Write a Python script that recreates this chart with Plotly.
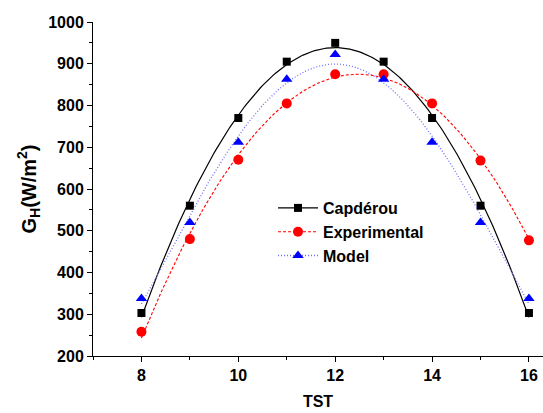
import numpy as np
import plotly.graph_objects as go

tst = [8, 9, 10, 11, 12, 13, 14, 15, 16]
capderou = [303, 560, 770, 905, 950, 905, 770, 560, 303]
experimental = [258, 480, 670, 805, 875, 875, 805, 668, 477]
model = [338, 520, 712, 863, 922, 863, 712, 520, 338]

x_ticks = [8, 10, 12, 14, 16]
y_ticks = [200, 300, 400, 500, 600, 700, 800, 900, 1000]

# name, values, marker colour, line colour, dash, width, symbol, size, fit degrees
series = [
    ("Capdérou", capderou, "black", "black", "solid", 1.2, "square", 8, (2,)),
    ("Experimental", experimental, "#ff0000", "#ff0000", "3px,2px", 1.1, "circle", 10, (2,)),
    ("Model", model, "#0000ff", "#6f6fff", "1px,2px", 1.3, "triangle-up", 10, (2, 4)),
]

FAM = "Liberation Sans, Arial"
fig = go.Figure()
xd = np.linspace(min(tst), max(tst), 200)
for name, ys, mcol, lcol, dash, lw, sym, ms, degs in series:
    yfit = np.mean([np.polyval(np.polyfit(tst, ys, d), xd) for d in degs], axis=0)
    fig.add_trace(go.Scatter(x=xd, y=yfit, mode="lines",
                             line=dict(color=lcol, dash=dash, width=lw),
                             showlegend=False, hoverinfo="skip"))
    fig.add_trace(go.Scatter(x=tst, y=ys, mode="markers",
                             marker=dict(color=mcol, symbol=sym, size=ms),
                             showlegend=False))
    fig.add_trace(go.Scatter(x=[None], y=[None], mode="lines+markers", name=f"<b>{name}</b>",
                             line=dict(color=lcol, dash=dash, width=lw),
                             marker=dict(color=mcol, symbol=sym, size=ms)))

fig.update_layout(
    width=543, height=413,
    margin=dict(l=93, r=0, t=22, b=57),
    paper_bgcolor="white", plot_bgcolor="white",
    font=dict(family=FAM, color="black"),
    legend=dict(x=0.4, y=0.494, xanchor="left", yanchor="top",
                font=dict(family=FAM, size=16, color="black"),
                bgcolor="rgba(0,0,0,0)", itemwidth=40, tracegroupgap=0),
    xaxis=dict(range=[7, 16.29], tickvals=x_ticks, ticktext=[f"<b>{v}</b>" for v in x_ticks],
               ticks="outside", ticklen=5, tickwidth=1, tickcolor="black",
               minor=dict(tickvals=[7, 9, 11, 13, 15], ticks="outside", ticklen=3, tickcolor="black"),
               showline=True, linecolor="black", linewidth=1, showgrid=False, zeroline=False,
               tickfont=dict(family=FAM, size=16, color="black"),
               title=dict(text="<b>TST</b>", font=dict(family=FAM, size=16, color="black"),
                          standoff=12)),
    yaxis=dict(range=[200, 1000], tickvals=y_ticks, ticktext=[f"<b>{v}</b>" for v in y_ticks],
               ticks="outside", ticklen=5, tickwidth=1, tickcolor="black",
               minor=dict(tickvals=list(range(250, 1000, 100)), ticks="outside", ticklen=3, tickcolor="black"),
               showline=True, linecolor="black", linewidth=1, showgrid=False, zeroline=False,
               tickfont=dict(family=FAM, size=16, color="black"),
               title=dict(text="<b>G<sub>H</sub>(W/m<sup>2</sup>)</b>",
                          font=dict(family=FAM, size=20, color="black"),
                          standoff=6)),
)
fig.write_html("out.html")
